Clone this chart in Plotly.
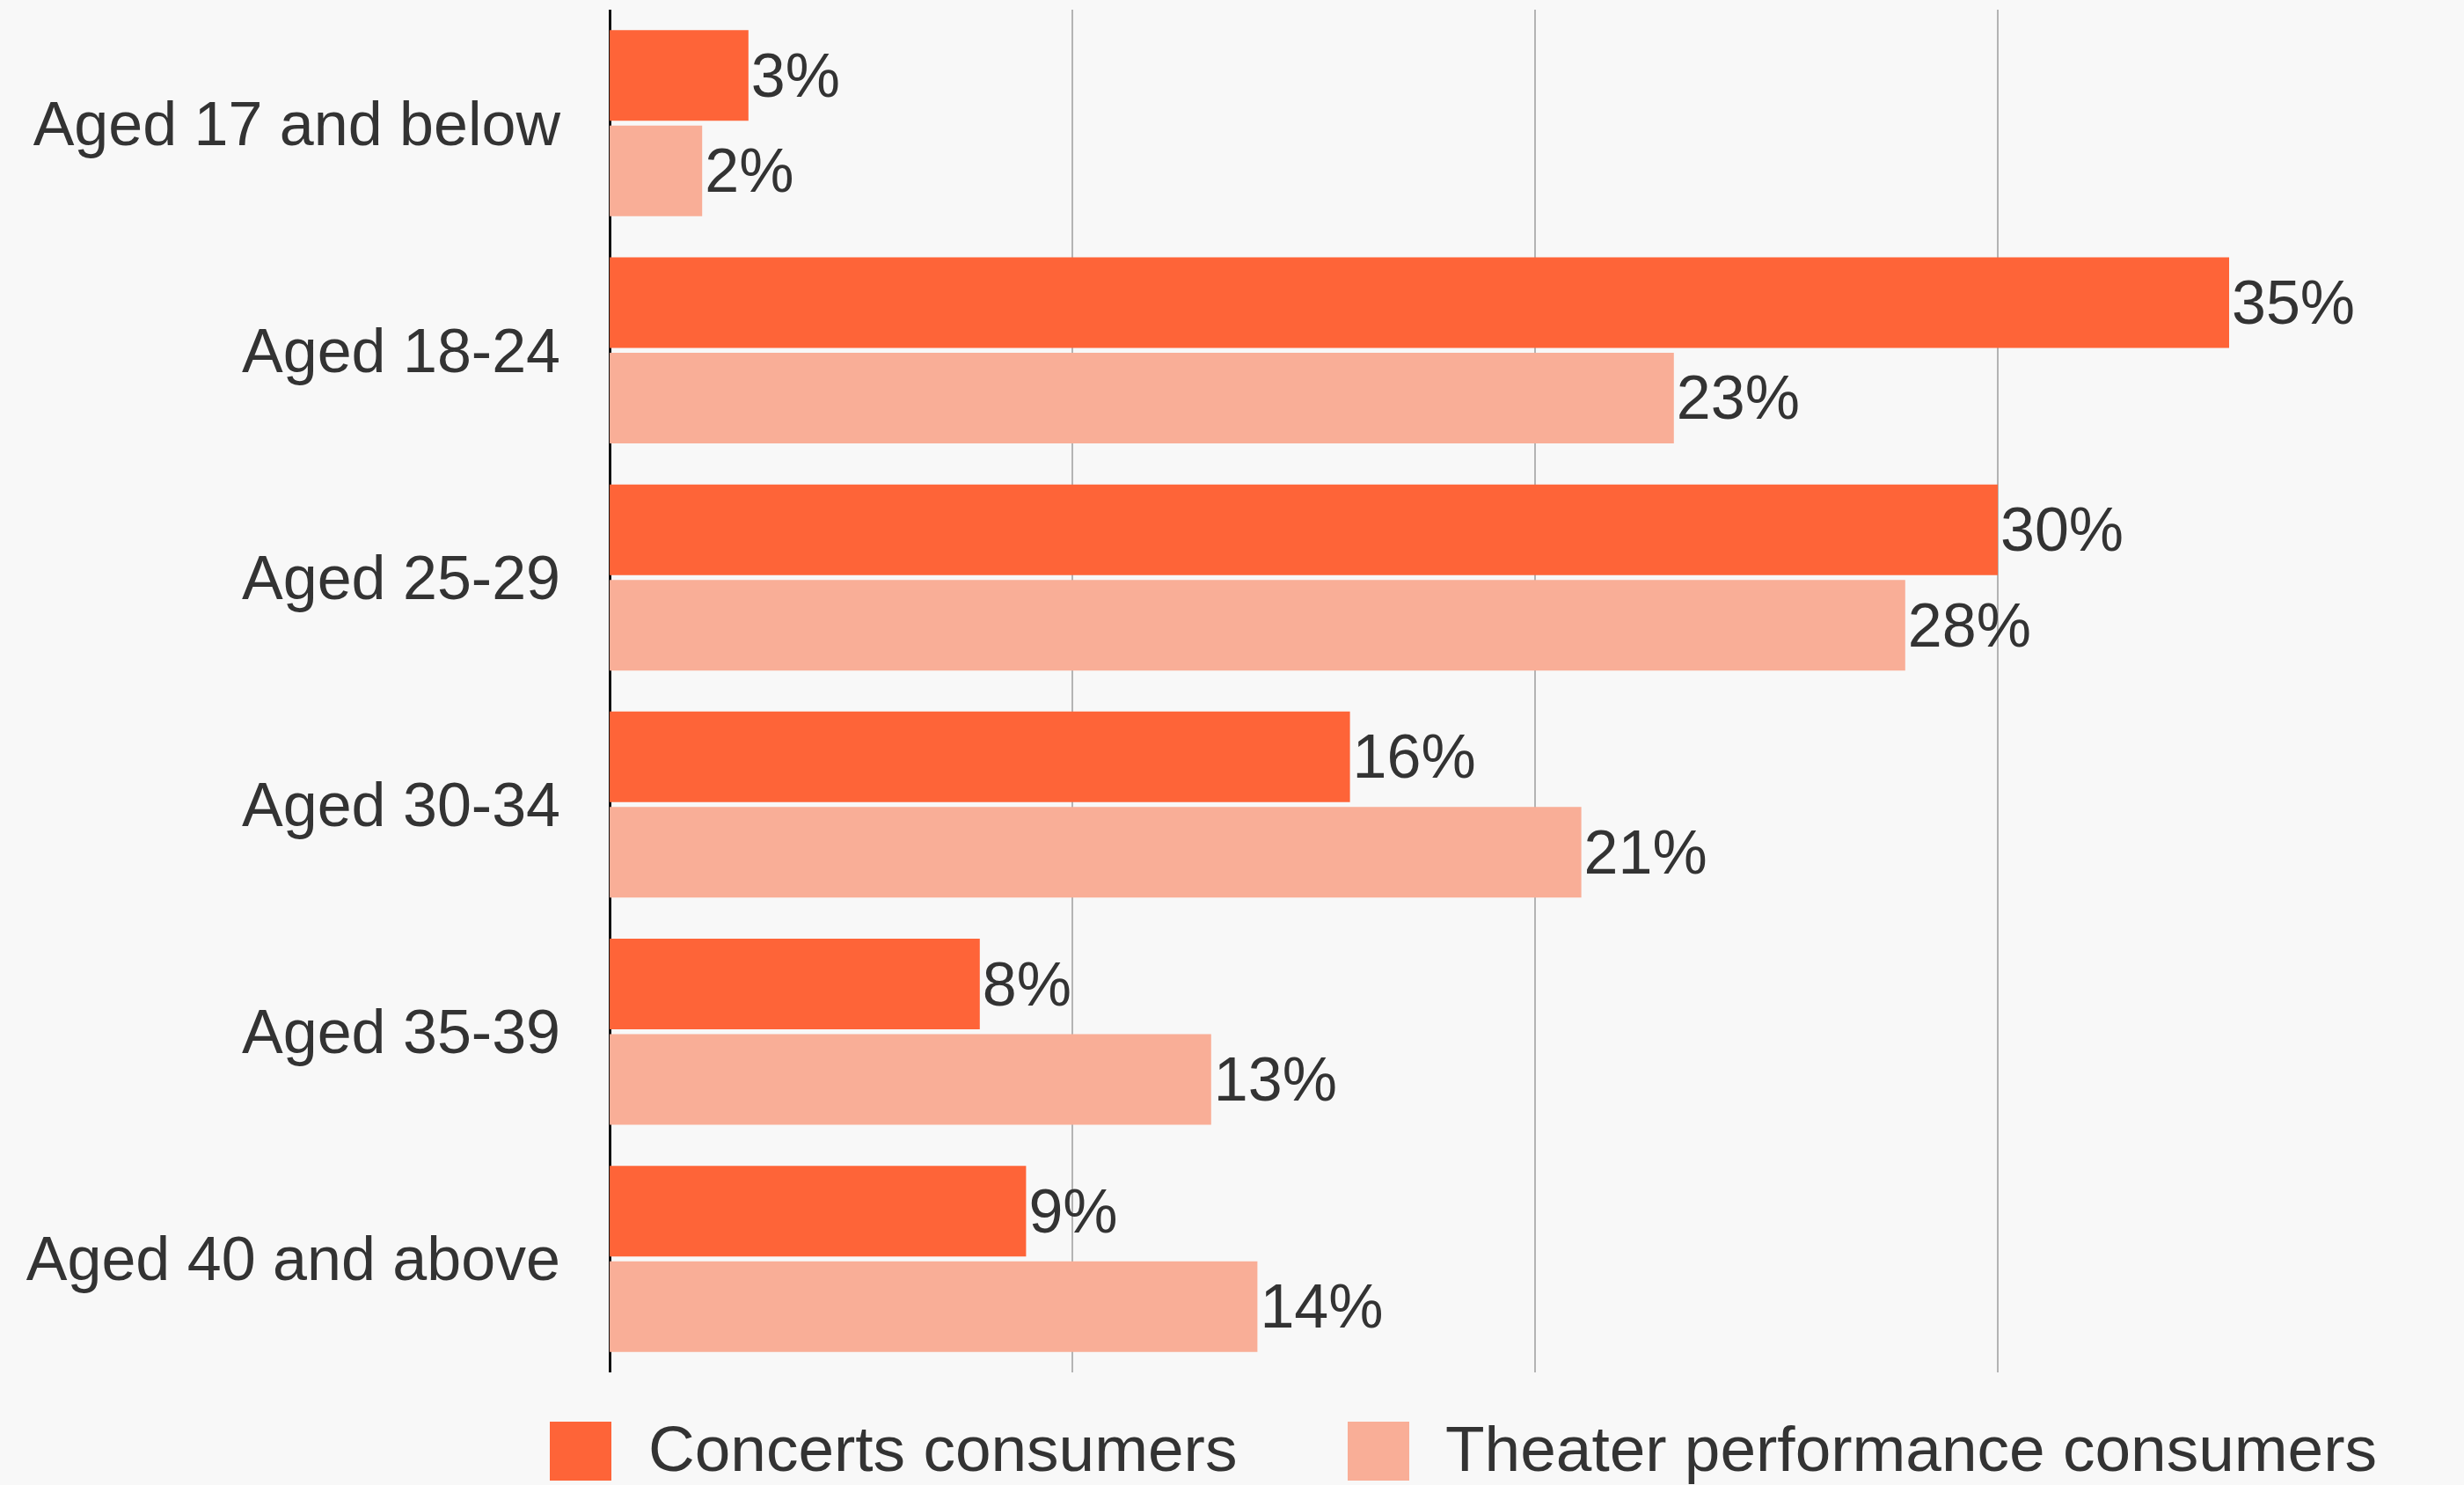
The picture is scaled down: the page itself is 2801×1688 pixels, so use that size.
import plotly.graph_objects as go

categories = ["Aged 17 and below", "Aged 18-24", "Aged 25-29", "Aged 30-34", "Aged 35-39", "Aged 40 and above"]
concerts = [3, 35, 30, 16, 8, 9]
theater = [2, 23, 28, 21, 13, 14]
series_names = ["Concerts consumers", "Theater performance consumers"]
colors = ["#FE6438", "#F9AE97"]

FONT = "Liberation Sans, Arial, Helvetica, sans-serif"
TXT = "#333333"
W, H = 2801, 1688
L, R, T, B = 693, 4, 11, 128

fig = go.Figure()
for name, vals, col in zip(series_names, [concerts, theater], colors):
    fig.add_trace(go.Bar(
        y=categories, x=vals, name=name, orientation="h",
        marker=dict(color=col, line=dict(width=0)),
        text=[f"{v}%" for v in vals], textposition="outside",
        textfont=dict(family=FONT, size=70, color=TXT),
        constraintext="none", cliponaxis=False, showlegend=False,
    ))

fig.update_layout(
    width=W, height=H,
    margin=dict(l=L, r=R, t=T, b=B, autoexpand=False),
    paper_bgcolor="#F8F8F8", plot_bgcolor="#F8F8F8",
    barmode="group", bargap=0.16, bargroupgap=0.05,
    font=dict(family=FONT, size=70, color=TXT),
    xaxis=dict(range=[0, 40], dtick=10, showgrid=True, gridcolor="#B4B4B4", gridwidth=2,
               showticklabels=False, zeroline=True, zerolinecolor="#111111", zerolinewidth=3,
               fixedrange=True),
    yaxis=dict(autorange="reversed", showgrid=False, ticks="", ticklabelstandoff=55,
               tickfont=dict(family=FONT, size=70, color=TXT), showline=False),
)

# legend drawn manually to match large swatches
ph = H - T - B
pw = W - L - R
def px_x(x):
    return (x - L) / pw
def px_y(y):
    return (H - B - y) / ph

swatches = [(625, 695, 735), (1532, 1602, 1641)]
for (x0, x1, tx), name, col in zip(swatches, series_names, colors):
    fig.add_shape(type="rect", xref="paper", yref="paper",
                  x0=px_x(x0), x1=px_x(x1), y0=px_y(1683), y1=px_y(1616),
                  fillcolor=col, line=dict(width=0))
    fig.add_annotation(xref="paper", yref="paper", x=px_x(tx), y=px_y(1646),
                       xanchor="left", yanchor="middle", text=name, showarrow=False,
                       font=dict(family=FONT, size=73, color=TXT))

fig.write_html("out.html", config={"displayModeBar": False},
               post_script="document.body.style.margin='0';document.body.style.background='#F8F8F8';")
